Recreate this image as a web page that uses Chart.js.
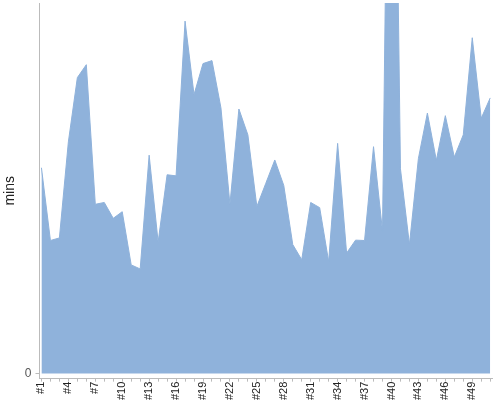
<!DOCTYPE html>
<html>
<head>
<meta charset="utf-8">
<script src="https://cdn.jsdelivr.net/npm/chart.js@4"></script>
<style>
  html, body { margin: 0; padding: 0; background: #fff; }
  #wrap { width: 500px; height: 400px; position: relative; }
</style>
</head>
<body>
<div id="wrap"><canvas id="c"></canvas></div>
<script>
const categories = ["#1","#2","#3","#4","#5","#6","#7","#8","#9","#10",
  "#11","#12","#13","#14","#15","#16","#17","#18","#19","#20",
  "#21","#22","#23","#24","#25","#26","#27","#28","#29","#30",
  "#31","#32","#33","#34","#35","#36","#37","#38","#39","#40",
  "#41","#42","#43","#44","#45","#46","#47","#48","#49","#50","#51"];
const minsValues = [55.7,36.0,36.7,62.7,80.1,83.6,45.8,46.3,42.0,43.8,
  29.4,28.3,59.1,35.6,53.8,53.5,95.4,75.5,83.9,84.7,
  71.9,45.8,71.6,64.6,45.2,51.5,57.8,50.9,34.9,30.8,
  46.3,44.9,30.3,62.3,32.6,36.1,36.0,61.4,38.5,242,
  55.4,34.9,58.2,70.5,57.7,69.8,58.6,64.6,90.9,69.1,74.6];
const yTickValues = [0];
const labelEvery = 3;

const points = minsValues.map((v, i) => ({ x: i + 1, y: v }));

new Chart(document.getElementById('c'), {
  type: 'line',
  data: {
    datasets: [{
      label: 'mins',
      data: points,
      fill: 'origin',
      backgroundColor: 'rgb(143,178,219)',
      borderColor: 'rgb(143,178,219)',
      borderWidth: 1,
      pointRadius: 0,
      tension: 0
    }]
  },
  options: {
    responsive: true,
    maintainAspectRatio: false,
    animation: false,
    layout: { padding: { top: 3, right: 8, left: 2, bottom: 0 } },
    plugins: { legend: { display: false }, tooltip: { enabled: false } },
    scales: {
      x: {
        type: 'linear',
        min: 0.78,
        max: categories.length + 0.2,
        afterBuildTicks: (scale) => {
          scale.ticks = categories.map((_, i) => ({ value: i + 1 }));
        },
        afterFit: (scale) => { scale.paddingLeft = 0; scale.paddingRight = 0; },
        ticks: {
          autoSkip: false,
          minRotation: 90,
          maxRotation: 90,
          color: '#222',
          font: { family: 'Liberation Sans, Arial, sans-serif', size: 11 },
          padding: 0,
          callback: (v) => ((v - 1) % labelEvery === 0 ? categories[v - 1] : '')
        },
        grid: {
          display: true,
          drawOnChartArea: false,
          drawTicks: true,
          tickLength: 3,
          color: '#bbb'
        },
        border: { display: true, color: '#bbb' }
      },
      y: {
        min: -1.4,
        max: 100.3,
        afterBuildTicks: (scale) => {
          scale.ticks = yTickValues.map(v => ({ value: v }));
        },
        afterFit: (scale) => { scale.paddingTop = 0; scale.paddingBottom = 0; },
        ticks: {
          color: '#555',
          font: { family: 'Liberation Sans, Arial, sans-serif', size: 12 },
          padding: 4
        },
        grid: {
          display: true,
          drawOnChartArea: false,
          drawTicks: true,
          tickLength: 4,
          color: '#bbb'
        },
        border: { display: true, color: '#bbb' },
        title: {
          display: true,
          text: 'mins',
          color: '#222',
          font: { family: 'Liberation Sans, Arial, sans-serif', size: 14 },
          padding: { top: 0, bottom: 2 }
        }
      }
    }
  }
});
</script>
</body>
</html>
